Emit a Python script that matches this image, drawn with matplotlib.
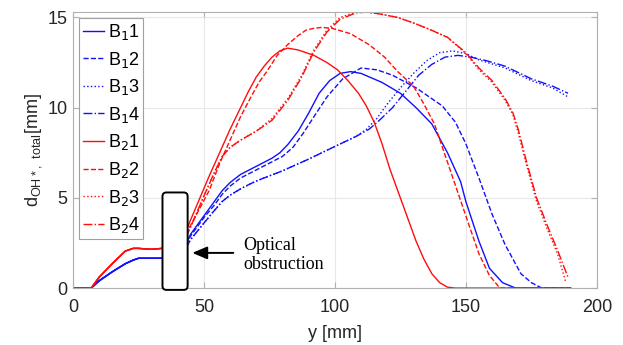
import numpy as np
import matplotlib
matplotlib.use("Agg")
import matplotlib.pyplot as plt
from matplotlib.patches import FancyBboxPatch

plt.rcParams['font.family'] = ['Liberation Sans', 'DejaVu Sans']

# before the optical obstruction (shared by each burner group)
x_pre = [0, 7, 10, 15, 20, 23, 25, 30, 34]
b1_pre = [0, 0, 0.4, 0.9, 1.35, 1.55, 1.65, 1.65, 1.65]
b2_pre = [0, 0, 0.6, 1.35, 2.05, 2.2, 2.2, 2.15, 2.2]

# after the obstruction
x_b11 = [43, 45, 50, 54, 57, 60, 64, 68, 72, 76, 79, 82, 86, 90, 94, 98, 102,
         106, 110, 118, 125, 131, 137, 143, 148, 150, 155, 159, 164, 169, 190]
y_b11 = [2.4, 3.0, 4.0, 4.8, 5.4, 5.85, 6.3, 6.6, 6.9, 7.2, 7.5, 7.95, 8.7,
         9.7, 10.8, 11.5, 11.9, 12.0, 11.9, 11.4, 10.8, 10.0, 9.1, 7.5, 5.9,
         4.8, 2.6, 1.1, 0.3, 0, 0]

x_b12 = [43, 45, 50, 54, 57, 60, 64, 68, 72, 76, 80, 84, 88, 92, 97, 103, 110,
         116, 122, 131, 141, 146, 150, 155, 160, 165, 171, 175, 179, 190]
y_b12 = [2.4, 2.9, 3.9, 4.6, 5.2, 5.65, 6.1, 6.4, 6.7, 7.0, 7.3, 7.8, 8.6,
         9.5, 10.6, 11.6, 12.2, 12.1, 11.8, 11.1, 10.1, 9.2, 8.0, 6.1, 4.1,
         2.4, 0.8, 0.3, 0, 0]

x_b13 = [43, 45, 50, 54, 57, 60, 64, 68, 72, 80, 90, 100, 108, 112, 116, 120,
         125, 130, 135, 140, 145, 150, 155, 165, 175, 183, 189]
y_b13 = [2.2, 2.7, 3.6, 4.3, 4.8, 5.15, 5.5, 5.8, 6.05, 6.5, 7.15, 7.85, 8.4,
         8.8, 9.4, 10.2, 11.1, 11.9, 12.6, 13.05, 13.15, 13.0, 12.65, 12.2,
         11.5, 11.1, 10.6]

x_b14 = [43, 45, 50, 54, 57, 60, 64, 68, 72, 80, 90, 100, 108, 113, 117, 122,
         127, 132, 137, 142, 147, 152, 158, 165, 175, 183, 189]
y_b14 = [2.2, 2.7, 3.6, 4.3, 4.8, 5.15, 5.5, 5.8, 6.05, 6.5, 7.15, 7.85, 8.4,
         8.8, 9.3, 10.0, 10.9, 11.8, 12.4, 12.8, 12.9, 12.8, 12.6, 12.3,
         11.6, 11.2, 10.8]

x_b21 = [43, 45, 48.5, 52, 56, 60, 64, 67, 70, 73, 76, 79, 82, 86, 92, 97,
         101, 105, 109, 112, 115, 118, 121, 125, 128, 131, 134, 137, 140, 143,
         146, 190]
y_b21 = [3.1, 3.8, 5.0, 6.2, 7.5, 8.8, 10.0, 10.9, 11.7, 12.3, 12.8, 13.15,
         13.3, 13.2, 12.9, 12.5, 12.1, 11.5, 10.8, 10.1, 9.2, 8.0, 6.6, 5.0,
         3.8, 2.6, 1.6, 0.8, 0.3, 0.05, 0, 0]

x_b22 = [43, 45, 48, 52, 56, 60, 64, 68, 71, 74, 78, 82, 86, 89, 92, 95, 99,
         106, 113, 119, 124, 130, 134, 138, 142, 146, 150, 155, 159, 163, 190]
y_b22 = [3.0, 3.5, 4.3, 5.4, 6.9, 8.2, 9.5, 10.6, 11.4, 12.0, 12.9, 13.5,
         14.0, 14.3, 14.4, 14.45, 14.4, 14.1, 13.5, 12.8, 12.0, 11.2, 10.2,
         9.1, 7.4, 5.7, 4.0, 1.9, 0.7, 0, 0]

x_b23 = [43, 45, 50, 54, 57, 60, 64, 70, 76, 82, 87, 92, 97, 102, 108, 112,
         117, 124, 130, 136, 143, 150, 155, 160, 165, 168, 170, 173, 177, 181,
         185, 188]
y_b23 = [2.8, 3.4, 5.1, 6.4, 7.3, 7.8, 8.2, 8.7, 9.4, 10.5, 11.7, 13.2, 14.3,
         15.0, 15.3, 15.3, 15.2, 15.0, 14.7, 14.35, 13.9, 13.0, 12.1, 11.4,
         10.4, 9.6, 8.6, 6.9, 4.8, 3.3, 1.9, 0.4]

x_b24 = [43, 45, 50, 54, 57, 60, 64, 70, 76, 82, 87, 92, 97, 102, 108, 112,
         117, 124, 130, 136, 143, 150, 155, 160, 165, 168, 170, 173, 177, 181,
         185, 189]
y_b24 = [2.8, 3.4, 5.1, 6.4, 7.3, 7.8, 8.2, 8.7, 9.3, 10.4, 11.6, 13.1, 14.2,
         14.9, 15.25, 15.3, 15.2, 15.0, 14.7, 14.35, 13.9, 13.05, 12.2, 11.5,
         10.5, 9.7, 8.8, 7.1, 5.0, 3.5, 2.1, 0.6]

blue = '#1010ff'
red = '#ff0d0d'

fig = plt.figure(figsize=(6.23, 3.45), dpi=100)
ax = fig.add_axes([0.117, 0.165, 0.841, 0.8])

series = [
    ('B$_1$1', x_b11, y_b11, b1_pre, blue, '-'),
    ('B$_1$2', x_b12, y_b12, b1_pre, blue, '--'),
    ('B$_1$3', x_b13, y_b13, b1_pre, blue, ':'),
    ('B$_1$4', x_b14, y_b14, b1_pre, blue, '-.'),
    ('B$_2$1', x_b21, y_b21, b2_pre, red, '-'),
    ('B$_2$2', x_b22, y_b22, b2_pre, red, '--'),
    ('B$_2$3', x_b23, y_b23, b2_pre, red, ':'),
    ('B$_2$4', x_b24, y_b24, b2_pre, red, '-.'),
]
for lab, xs, ys, pre, c, ls in series:
    ax.plot(x_pre, pre, color=c, lw=1.0, ls='-')
    ax.plot(xs, ys, color=c, lw=1.0, ls=ls, label=lab)

# obstruction box
box = FancyBboxPatch((34.2, -0.1), 9.6, 5.4, boxstyle='round,pad=0,rounding_size=1.5',
                     facecolor='white', edgecolor='black', lw=1.4, zorder=5,
                     mutation_aspect=1 / 6.9, clip_on=False)
ax.add_patch(box)
ax.annotate('', xy=(44.5, 1.95), xytext=(62.3, 1.95),
            arrowprops=dict(arrowstyle='-|>,head_length=0.9,head_width=0.38',
                            color='black', lw=1.4), zorder=6)
ax.text(64.9, 1.83, 'Optical\nobstruction', family='Liberation Serif',
        fontsize=13, va='center', ha='left', linespacing=1.15)

ax.set_xlim(0, 200)
ax.set_ylim(0, 15.3)
ax.set_xticks([0, 50, 100, 150, 200])
ax.set_yticks([0, 5, 10, 15])
ax.grid(True, color='#e8e8e8', lw=0.8)
ax.set_axisbelow(True)
ax.tick_params(direction='in', top=True, right=True, labelsize=13,
               colors='#b0b0b0', labelcolor='#262626', length=4)
ax.tick_params(axis='x', pad=8)
ax.tick_params(axis='y', pad=4)
for s in ax.spines.values():
    s.set_color('#b0b0b0')
ax.set_xlabel('y [mm]', fontsize=13, color='#262626', labelpad=6)
ax.set_ylabel(r'd$_\mathregular{OH*,\ total}$[mm]', fontsize=13, color='#262626',
              labelpad=2)

leg = ax.legend(loc='upper left', fontsize=13, handlelength=1.2,
                handletextpad=0.17, labelspacing=0.42, borderpad=0.2,
                borderaxespad=0.35, fancybox=False, framealpha=1)
leg.get_frame().set_edgecolor('#a0a0a0')
leg.get_frame().set_linewidth(0.8)

fig.savefig('out.png', dpi=100)
